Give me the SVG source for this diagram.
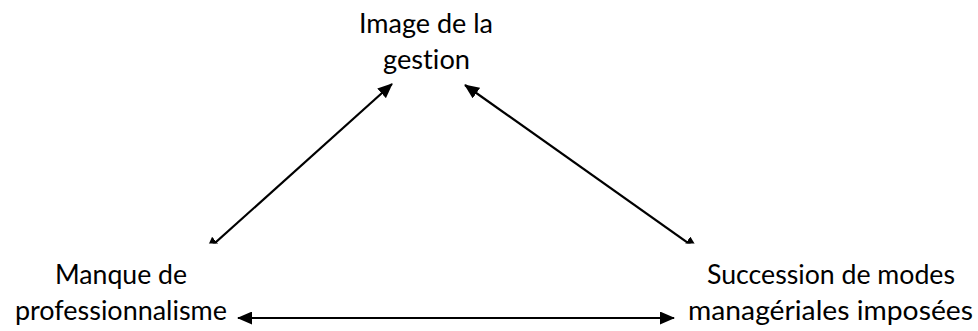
<svg xmlns="http://www.w3.org/2000/svg" width="978" height="331" viewBox="0 0 978 331">
  <style>
    .lbl { font-family: Lato, "Open Sans", "Liberation Sans", sans-serif; font-size: 27px; fill: #000; font-variant-ligatures: none; font-feature-settings: "liga" 0, "clig" 0; }
    .conn { stroke: #000; stroke-width: 2.2; fill: none; }
  </style>
  <defs>
    <marker id="ah" viewBox="0 0 15 13" refX="14" refY="6.5" markerWidth="15" markerHeight="13" markerUnits="userSpaceOnUse" orient="auto-start-reverse">
      <path d="M0,0 L15,6.5 L0,13 z" fill="#000"/>
    </marker>
    <clipPath id="clipTop">
      <rect x="0" y="0" width="978" height="243.5"/>
    </clipPath>
  </defs>
  <rect width="978" height="331" fill="#fff"/>
  <g id="connectors">
    <line class="conn" x1="206" y1="251" x2="392" y2="84" marker-start="url(#ah)" marker-end="url(#ah)" clip-path="url(#clipTop)"/>
    <line class="conn" x1="698" y1="250" x2="465" y2="85" marker-start="url(#ah)" marker-end="url(#ah)" clip-path="url(#clipTop)"/>
    <line class="conn" x1="238" y1="318" x2="674" y2="318" marker-start="url(#ah)" marker-end="url(#ah)"/>
  </g>
  <g id="node-image">
    <text class="lbl" x="359" y="33" textLength="134" lengthAdjust="spacingAndGlyphs">Image de la</text>
    <text class="lbl" x="383" y="69" textLength="87" lengthAdjust="spacingAndGlyphs">gestion</text>
  </g>
  <g id="node-manque">
    <text class="lbl" x="55" y="284" textLength="132" lengthAdjust="spacingAndGlyphs">Manque de</text>
    <text class="lbl" x="15" y="320" textLength="212" lengthAdjust="spacingAndGlyphs">professionnalisme</text>
  </g>
  <g id="node-succession">
    <text class="lbl" x="707" y="284" textLength="248" lengthAdjust="spacingAndGlyphs">Succession de modes</text>
    <text class="lbl" x="688" y="320" textLength="285" lengthAdjust="spacingAndGlyphs">managériales imposées</text>
  </g>
</svg>
